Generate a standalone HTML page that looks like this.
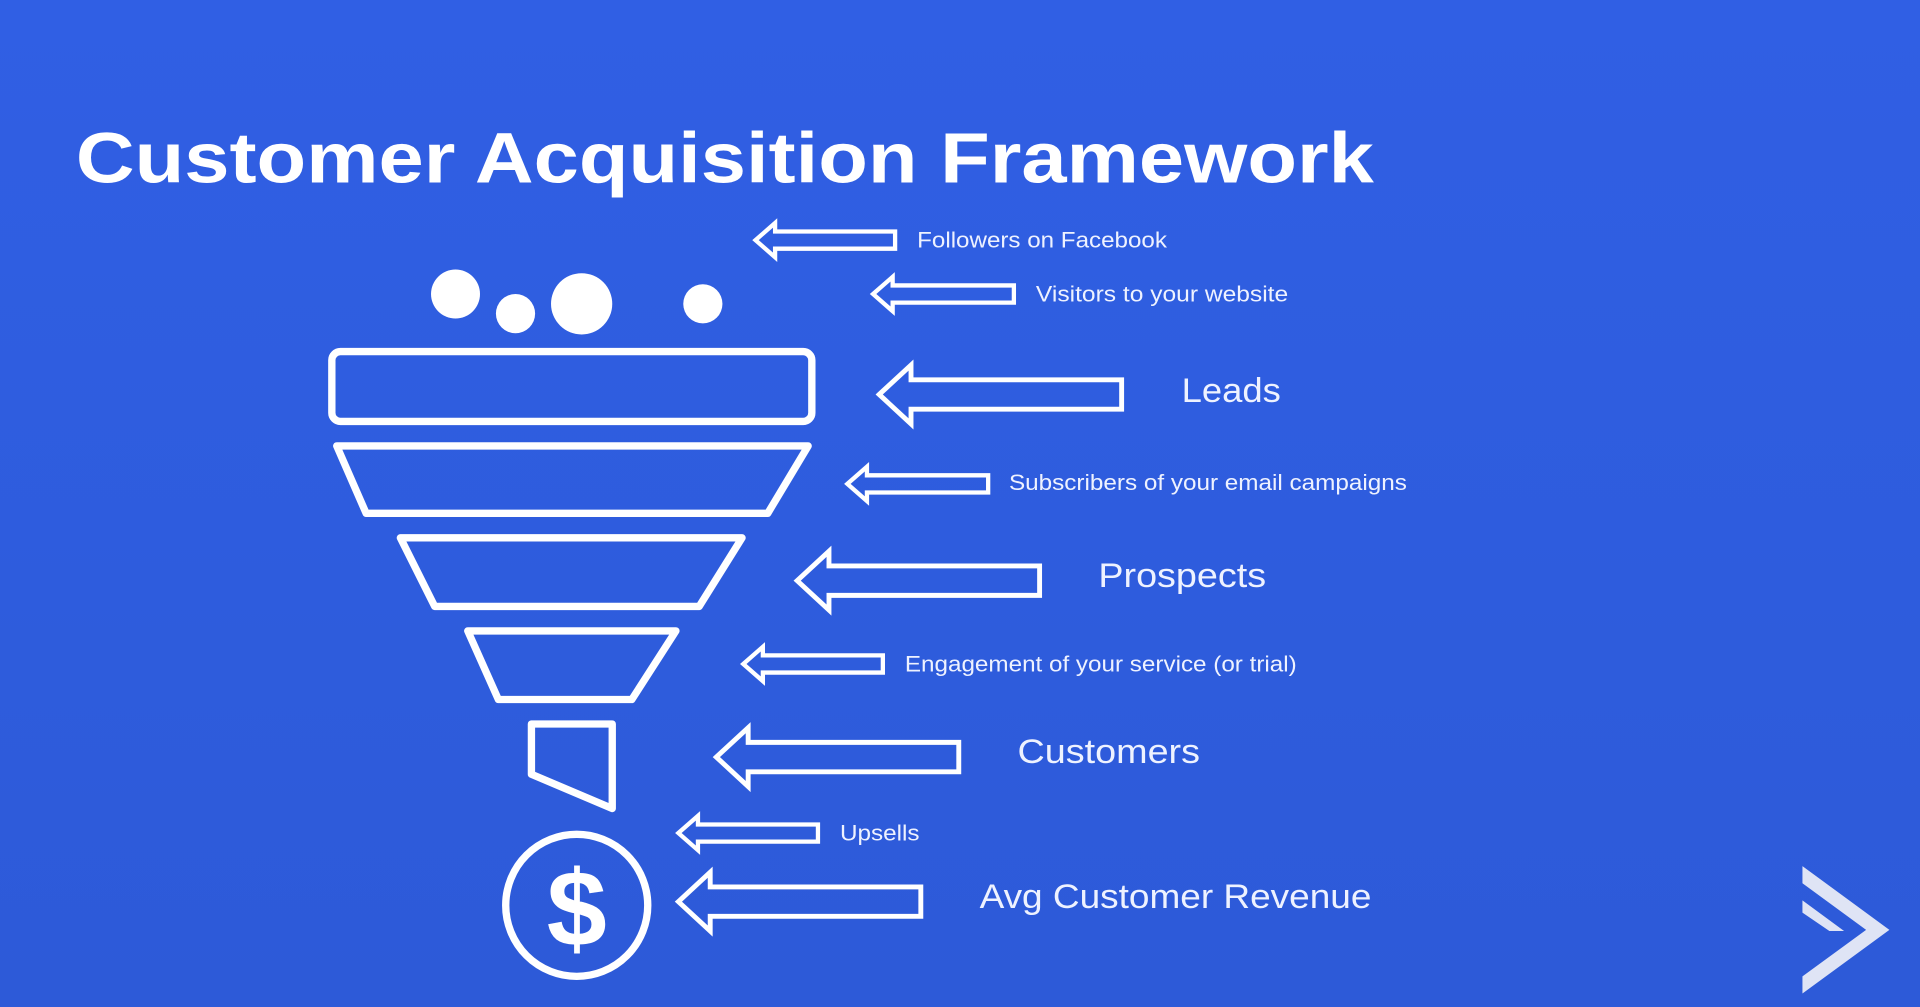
<!DOCTYPE html>
<html><head><meta charset="utf-8"><style>
html,body{margin:0;padding:0;background:#2f5fe3;overflow:hidden}
svg{display:block}
</style></head><body>
<svg width="1920" height="1007" viewBox="0 0 1568 822" preserveAspectRatio="none" xmlns="http://www.w3.org/2000/svg">
<defs><linearGradient id="bg" x1="0" y1="0" x2="0" y2="1"><stop offset="0" stop-color="#305fe4"/><stop offset="1" stop-color="#2d5ad8"/></linearGradient></defs>
<rect width="1568" height="822" fill="url(#bg)"/>
<text x="62" y="149" font-family="Liberation Sans, sans-serif" font-weight="bold" font-size="58" fill="#fff" textLength="1060" lengthAdjust="spacingAndGlyphs">Customer Acquisition Framework</text>
<g fill="#fff">
<circle cx="372" cy="240" r="20"/><circle cx="421" cy="256" r="16"/><circle cx="475" cy="248" r="25"/><circle cx="574" cy="248" r="16"/>
</g>
<g fill="none" stroke="#fff" stroke-width="6" stroke-linejoin="round">
<rect x="271" y="287" width="392" height="57" rx="7"/>
<polygon points="275,364 660,364 627,419 299,419"/>
<polygon points="327,439 606,439 571,495 355,495"/>
<polygon points="382,515 552,515 516,571 407,571"/>
<polygon points="434,591 500,591 500,660 434,632"/>
<circle cx="471" cy="739" r="58"/>
</g>
<text x="471" y="772" text-anchor="middle" font-family="Liberation Sans, sans-serif" font-weight="bold" font-size="88" fill="#fff">$</text>
<g fill="none" stroke="#fff" stroke-width="3.5" stroke-linejoin="miter">
<path d="M617,196 L633,182 L633,189 L731,189 L731,203 L633,203 L633,210 Z"/>
<path d="M713,240 L729,226 L729,233 L828,233 L828,247 L729,247 L729,254 Z"/>
<path d="M692,395 L708,381 L708,388 L807,388 L807,402 L708,402 L708,409 Z"/>
<path d="M607,542 L623,528 L623,535 L721,535 L721,549 L623,549 L623,556 Z"/>
<path d="M554,680 L570,666 L570,673 L668,673 L668,687 L570,687 L570,694 Z"/>
</g>
<g fill="none" stroke="#fff" stroke-width="4" stroke-linejoin="miter">
<path d="M718,322 L744,298 L744,310 L916,310 L916,334 L744,334 L744,346 Z"/>
<path d="M651,474 L677,450 L677,462 L849,462 L849,486 L677,486 L677,498 Z"/>
<path d="M585,618 L611,594 L611,606 L783,606 L783,630 L611,630 L611,642 Z"/>
<path d="M554,736 L580,712 L580,724 L752,724 L752,748 L580,748 L580,760 Z"/>
</g>
<g font-family="Liberation Sans, sans-serif" fill="#eef2ff">
<text x="749" y="202" font-size="18" textLength="204" lengthAdjust="spacingAndGlyphs">Followers on Facebook</text>
<text x="846" y="246" font-size="18" textLength="206" lengthAdjust="spacingAndGlyphs">Visitors to your website</text>
<text x="965" y="328" font-size="28" textLength="81" lengthAdjust="spacingAndGlyphs">Leads</text>
<text x="824" y="400" font-size="18" textLength="325" lengthAdjust="spacingAndGlyphs">Subscribers of your email campaigns</text>
<text x="897" y="479" font-size="28" textLength="137" lengthAdjust="spacingAndGlyphs">Prospects</text>
<text x="739" y="548" font-size="18" textLength="320" lengthAdjust="spacingAndGlyphs">Engagement of your service (or trial)</text>
<text x="831" y="623" font-size="28" textLength="149" lengthAdjust="spacingAndGlyphs">Customers</text>
<text x="686" y="686" font-size="18" textLength="65" lengthAdjust="spacingAndGlyphs">Upsells</text>
<text x="800" y="741" font-size="28" textLength="320" lengthAdjust="spacingAndGlyphs">Avg Customer Revenue</text>
</g>
<g fill="#dfe4f5">
<polygon points="1472,707 1543,759 1472,811 1472,797 1524,759 1472,721"/>
<polygon points="1472,735 1506,760 1494,760 1472,745"/>
</g>
</svg>
</body></html>
